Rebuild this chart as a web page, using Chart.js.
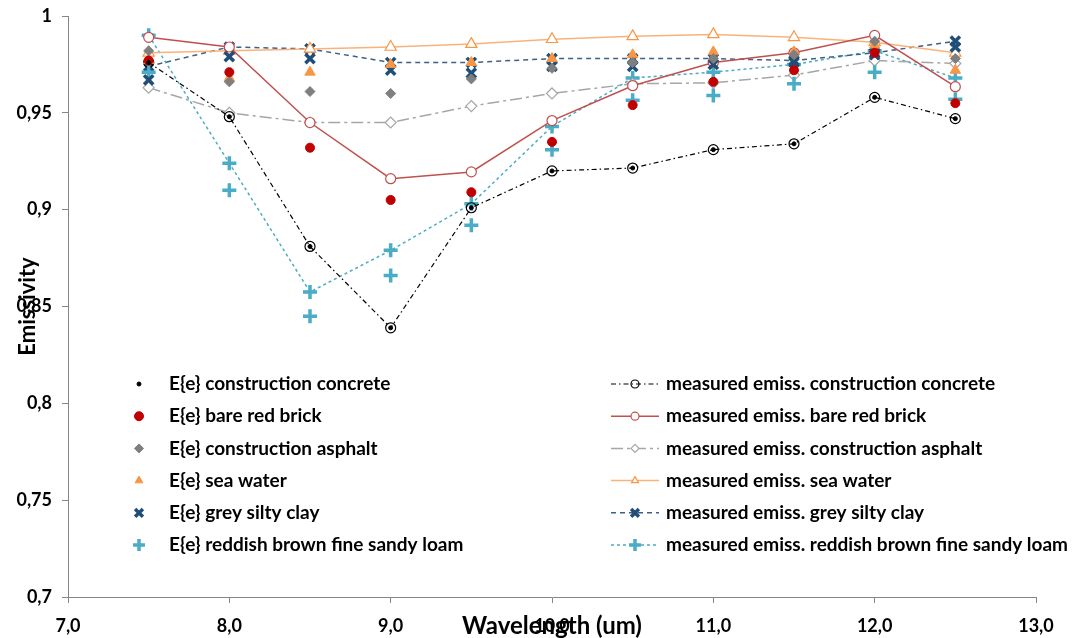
<!DOCTYPE html>
<html>
<head>
<meta charset="utf-8">
<script src="https://cdn.jsdelivr.net/npm/chart.js@4.4.1/dist/chart.umd.min.js"></script>
<style>
    body { margin: 0; background: #fff; }
    #wrap { width: 1075px; height: 638px; }
</style>
</head>
<body>
<div id="wrap"><canvas id="emissChart" width="1075" height="638"></canvas></div>
<script>
// wavelength (um) of every sample
const wavelengths = [7.5, 8.0, 8.5, 9.0, 9.5, 10.0, 10.5, 11.0, 11.5, 12.0, 12.5];

// E{e} values (markers only)
const eConcrete = [0.976, 0.948, 0.881, 0.839, 0.901, 0.920, 0.9215, 0.931, 0.934, 0.958, 0.947];
const eBrick    = [0.977, 0.971, 0.932, 0.905, 0.909, 0.935, 0.954, 0.966, 0.972, 0.981, 0.955];
const eAsphalt  = [0.982, 0.966, 0.961, 0.960, 0.9675, 0.973, 0.976, 0.978, 0.980, 0.987, 0.978];
const eSeaWater = [0.977, 0.968, 0.971, 0.975, 0.976, 0.978, 0.980, 0.9815, 0.9815, 0.985, 0.972];
const eClay     = [0.967, 0.979, 0.978, 0.972, 0.9705, 0.974, 0.974, 0.975, 0.976, 0.980, 0.984];
const eLoam     = [0.971, 0.910, 0.845, 0.866, 0.892, 0.931, 0.9565, 0.959, 0.965, 0.971, 0.957];

// measured emissivity (lines + markers)
const mConcrete = [0.976, 0.948, 0.881, 0.839, 0.901, 0.920, 0.9215, 0.931, 0.934, 0.958, 0.947];
const mBrick    = [0.989, 0.984, 0.945, 0.916, 0.9195, 0.946, 0.964, 0.976, 0.981, 0.990, 0.9635];
const mAsphalt  = [0.963, 0.950, 0.945, 0.945, 0.9535, 0.960, 0.965, 0.9655, 0.9695, 0.977, 0.9755];
const mSeaWater = [0.981, 0.982, 0.983, 0.984, 0.9855, 0.988, 0.9895, 0.9905, 0.989, 0.9865, 0.981];
const mClay     = [0.974, 0.984, 0.983, 0.976, 0.976, 0.978, 0.978, 0.978, 0.977, 0.981, 0.987];
const mLoam     = [0.990, 0.924, 0.8575, 0.879, 0.903, 0.943, 0.968, 0.971, 0.975, 0.982, 0.968];

const eLabels = ['E{e} construction concrete', 'E{e} bare red brick', 'E{e} construction asphalt',
                 'E{e} sea water', 'E{e} grey silty clay', 'E{e} reddish brown fine sandy loam'];
const mLabels = ['measured emiss. construction concrete', 'measured emiss. bare red brick',
                 'measured emiss. construction asphalt', 'measured emiss. sea water',
                 'measured emiss. grey silty clay', 'measured emiss. reddish brown fine sandy loam'];

const xTickValues = [7, 8, 9, 10, 11, 12, 13];
const yTickValues = [0.7, 0.75, 0.8, 0.85, 0.9, 0.95, 1];

const FONT = 'Lato, "Open Sans", sans-serif';

function toPoints(values) {
    return values.map((v, i) => ({ x: wavelengths[i], y: v }));
}

function markerSet(label, values, style) {
    return Object.assign({
        label: label,
        data: toPoints(values),
        showLine: false,
        pointBorderWidth: 1,
        pointHoverRadius: 0
    }, style);
}

function lineSet(label, values, style) {
    return Object.assign({
        label: label,
        data: toPoints(values),
        showLine: true,
        fill: false,
        tension: 0,
        borderWidth: 1.5,
        pointBorderWidth: 1.2,
        pointHoverRadius: 0
    }, style);
}

const datasets = [
    markerSet(eLabels[0], eConcrete, { pointStyle: 'circle', pointRadius: 2, backgroundColor: '#000', borderColor: '#000' }),
    markerSet(eLabels[1], eBrick, { pointStyle: 'circle', pointRadius: 4.5, backgroundColor: '#C00000', borderColor: '#C00000' }),
    markerSet(eLabels[2], eAsphalt, { pointStyle: 'rectRot', pointRadius: 5, backgroundColor: '#7F7F7F', borderColor: '#7F7F7F' }),
    markerSet(eLabels[3], eSeaWater, { pointStyle: 'triangle', pointRadius: 6, backgroundColor: '#F79646', borderColor: '#F79646' }),
    markerSet(eLabels[4], eClay, { pointStyle: 'crossRot', pointRadius: 6.5, pointBorderWidth: 3.5, backgroundColor: '#1F4E79', borderColor: '#1F4E79' }),
    markerSet(eLabels[5], eLoam, { pointStyle: 'cross', pointRadius: 7, pointBorderWidth: 3.5, backgroundColor: '#4BACC6', borderColor: '#4BACC6' }),

    lineSet(mLabels[0], mConcrete, { borderColor: '#000', borderWidth: 1.2, borderDash: [5, 3, 1.5, 3],
        pointStyle: 'circle', pointRadius: 5, pointBackgroundColor: 'rgba(255,255,255,0)', pointBorderColor: '#000' }),
    lineSet(mLabels[1], mBrick, { borderColor: '#C0504D',
        pointStyle: 'circle', pointRadius: 5, pointBackgroundColor: '#fff', pointBorderColor: '#C0504D' }),
    lineSet(mLabels[2], mAsphalt, { borderColor: '#A6A6A6', borderDash: [12, 4, 3, 4],
        pointStyle: 'rectRot', pointRadius: 5.5, pointBackgroundColor: '#fff', pointBorderColor: '#A6A6A6' }),
    lineSet(mLabels[3], mSeaWater, { borderColor: '#F9B27A',
        pointStyle: 'triangle', pointRadius: 6.5, pointBackgroundColor: '#fff', pointBorderColor: '#F79646' }),
    lineSet(mLabels[4], mClay, { borderColor: '#3F5F86', borderDash: [5, 4],
        pointStyle: 'crossRot', pointRadius: 6.5, pointBorderWidth: 3.5, pointBackgroundColor: '#1F4E79', pointBorderColor: '#1F4E79' }),
    lineSet(mLabels[5], mLoam, { borderColor: '#4BACC6', borderDash: [3, 3],
        pointStyle: 'cross', pointRadius: 7, pointBorderWidth: 3.5, pointBackgroundColor: '#4BACC6', pointBorderColor: '#4BACC6' })
];

// two-column legend drawn inside the plot area
const insideLegend = {
    id: 'insideLegend',
    afterDraw(chart) {
        const ctx = chart.ctx;
        const area = chart.chartArea;
        const helpers = Chart.helpers;
        ctx.save();
        ctx.font = 'bold 19px ' + FONT;
        ctx.textBaseline = 'middle';
        ctx.textAlign = 'left';

        chart.data.datasets.forEach((ds, i) => {
            const col = i < 6 ? 0 : 1;
            const row = i % 6;
            const y = area.bottom - 213 + row * 32.2;
            let markX, textX;
            if (col === 0) {
                markX = area.left + 71;
                textX = area.left + 101;
            } else {
                markX = area.left + 567;
                textX = area.left + 598;
                ctx.save();
                ctx.strokeStyle = ds.borderColor;
                ctx.lineWidth = ds.borderWidth;
                ctx.setLineDash(ds.borderDash || []);
                ctx.beginPath();
                ctx.moveTo(markX - 24, y);
                ctx.lineTo(markX + 24, y);
                ctx.stroke();
                ctx.restore();
            }
            ctx.save();
            const small = col === 1 && (ds.pointStyle === 'circle' || ds.pointStyle === 'rectRot' || ds.pointStyle === 'triangle');
            ctx.fillStyle = ds.pointBackgroundColor || ds.backgroundColor;
            ctx.strokeStyle = ds.pointBorderColor || ds.borderColor;
            ctx.lineWidth = ds.pointBorderWidth;
            helpers.drawPoint(ctx, {
                pointStyle: ds.pointStyle,
                radius: small ? 4 : (col === 0 && ds.pointStyle !== 'cross' && ds.pointStyle !== 'crossRot' ? Math.min(ds.pointRadius, 4.5) : ds.pointRadius * 0.85),
                rotation: 0,
                borderWidth: ds.pointBorderWidth
            }, markX, y);
            ctx.restore();

            ctx.fillStyle = '#000';
            ctx.fillText(ds.label, textX, y);
        });
        ctx.restore();
    }
};

function commaNum(v, digits) {
    return v.toFixed(digits).replace('.', ',');
}

const ctx = document.getElementById('emissChart').getContext('2d');
const emissChart = new Chart(ctx, {
    type: 'scatter',
    data: { datasets: datasets },
    options: {
        responsive: false,
        animation: false,
        layout: { padding: { top: 16, right: 39, left: 0, bottom: 0 } },
        plugins: {
            legend: { display: false },
            tooltip: { enabled: false }
        },
        scales: {
            x: {
                type: 'linear',
                min: 7,
                max: 13,
                afterFit: function(scale) {
                    scale.height = 41;
                    scale.paddingLeft = 0;
                    scale.paddingRight = 0;
                },
                afterBuildTicks: function(scale) {
                    scale.ticks = xTickValues.map(v => ({ value: v }));
                },
                grid: { drawOnChartArea: false, drawTicks: true, tickLength: 6, color: '#868686' },
                border: { color: '#868686', width: 1 },
                ticks: {
                    color: '#000',
                    padding: 12,
                    font: { family: FONT, size: 18, weight: 'bold' },
                    callback: function(value) { return commaNum(value, 1); }
                },
                title: {
                    display: true,
                    text: 'Wavelength (um)',
                    color: '#000',
                    padding: { top: 0, bottom: -3 },
                    font: { family: FONT, size: 24, weight: 'bold' }
                }
            },
            y: {
                type: 'linear',
                min: 0.7,
                max: 1,
                afterFit: function(scale) {
                    scale.width = 68;
                    scale.paddingTop = 0;
                    scale.paddingBottom = 0;
                },
                afterBuildTicks: function(scale) {
                    scale.ticks = yTickValues.map(v => ({ value: v }));
                },
                grid: { drawOnChartArea: false, drawTicks: true, tickLength: 6, color: '#868686' },
                border: { color: '#868686', width: 1 },
                ticks: {
                    color: '#000',
                    padding: 10,
                    font: { family: FONT, size: 18, weight: 'bold' },
                    callback: function(value) {
                        const r = Math.round(value * 100) / 100;
                        return r === 1 ? '1' : String(r).replace('.', ',');
                    }
                },
                title: {
                    display: true,
                    text: 'Emissivity',
                    color: '#000',
                    padding: { top: 15 },
                    font: { family: FONT, size: 22, weight: 'bold' }
                }
            }
        }
    },
    plugins: [insideLegend]
});
</script>
</body>
</html>
